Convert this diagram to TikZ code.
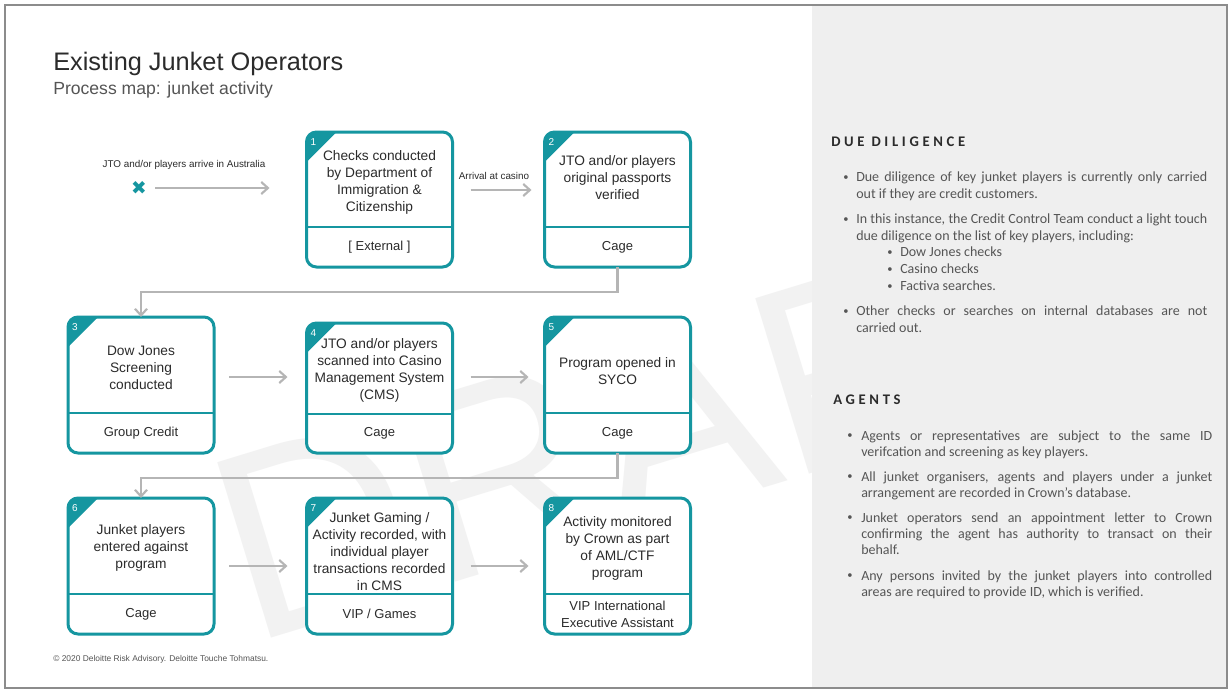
\documentclass[tikz,border=0pt]{standalone}
\usepackage{fontspec}
\usepackage{graphicx}
\setmainfont{Liberation Sans}
\newfontfamily\notefont{Carlito}
\newfontfamily\headfont{Carlito}[LetterSpace=25]
\newfontfamily\symbolfont{DejaVu Sans}
\usetikzlibrary{arrows.meta,calc}

\hyphenpenalty=10000
\exhyphenpenalty=10000
\tolerance=10000

\definecolor{tealc}{HTML}{1596A0}
\definecolor{flowgray}{HTML}{B5B5B5}
\definecolor{inkdark}{HTML}{2B2B2B}
\definecolor{inkmid}{HTML}{555555}
\definecolor{panelgray}{HTML}{EFEFEF}
\definecolor{framegray}{HTML}{8C8C8C}
\definecolor{markgray}{HTML}{F2F2F2}

\newcommand\noteleading{12.5pt}
\newcommand\notebullet{\raisebox{0.12em}{\scalebox{0.75}{•}}}

\tikzset{
  pbox/.style={draw=tealc, line width=2.25pt, fill=white, rounded corners=7.5pt,
    minimum width=109.5pt, inner sep=0pt, outer sep=0pt},
  divider/.style={draw=tealc, line width=1.5pt},
  numlabel/.style={text=white, font=\fontsize{7.5}{8}\selectfont, inner sep=0pt},
  maintext/.style={text=inkdark, align=center, font=\fontsize{10.3}{12.75}\selectfont, inner sep=0pt},
  foottext/.style={text=inkdark, align=center, font=\fontsize{9.75}{12.75}\selectfont, inner sep=0pt},
  flow/.style={draw=flowgray, line width=1.6pt, -{Straight Barb[length=5pt,width=9pt]}},
  smalllabel/.style={text=inkdark, font=\fontsize{7.4}{9}\selectfont, inner sep=0pt},
  notetext/.style={text=inkmid, align=justify, inner sep=0pt, anchor=north west,
    text width=263.25pt, font=\notefont\fontsize{10.5}{\noteleading}\selectfont},
  notebul/.style={text=inkmid, inner sep=0pt, anchor=north west,
    font=\notefont\fontsize{10.5}{\noteleading}\selectfont},
  notehead/.style={text=inkdark, anchor=west, inner sep=0pt,
    font=\headfont\bfseries\fontsize{11}{13}\selectfont},
  watermark/.style={text=markgray, rotate=17, anchor=base west, inner sep=0pt,
    font=\fontsize{200}{200}\selectfont}
}

% process step: name, number, centre x, top, bottom, divider y, text centre y, text, owner
\newcommand\procbox[9]{%
  \node[pbox, minimum height={(#5-#4)*0.75pt}] (#1) at (#3,{(#4+#5)/2}) {};
  \begin{scope}
    \clip[rounded corners=7.5pt] (#1.north west) rectangle (#1.south east);
    \fill[tealc] (#1.north west) -- ++(30,0) -- ++(-30,30) -- cycle;
  \end{scope}
  \node[numlabel] (#1-n) at ([xshift=5.25pt,yshift=-7.5pt]#1.north west) {#2};
  \draw[divider] (#1.west |- 0,#6) -- (#1.east |- 0,#6);
  \node[maintext] (#1-t) at (#3,#7) {#8};
  \node[foottext] (#1-f) at (#3,{(#6+#5)/2}) {#9};
}

% bulleted note paragraph: name, bullet x, text x, top, text
\newcommand\notepara[5]{%
  \node[notetext] (#1) at (#3,#4) {\strut #5};
  \node[notebul] (#1-b) at (#2,#4) {\strut\notebullet};
}

\begin{document}
\begin{tikzpicture}[x=0.75pt, y=-0.75pt]
\useasboundingbox (0,0) rectangle (1231,692);
\fill[white] (0,0) rectangle (1231,692);

% faint stamp behind the process map
\node[watermark] (mark) at (250,645) {DRAFT};

% notes panel and page frame
\fill[panelgray] (812,5) rectangle (1227,688);
\draw[framegray, line width=1.5pt] (5,5) rectangle (1227,688);

% headings
\node[anchor=base west, inner sep=0pt, text=inkdark, font=\fontsize{19}{22}\selectfont]
  (title) at (53,70) {Existing Junket Operators};
\node[anchor=base west, inner sep=0pt, text=inkmid, font=\fontsize{13.2}{15}\selectfont]
  (subtitle) at (53,94) {Process map: junket activity};

% process steps
\procbox{b1}{1}{379.5}{132}{267}{227}{182}{Checks conducted\\by Department of\\Immigration \&\\Citizenship}{[ External ]}
\procbox{b2}{2}{617.5}{132}{267}{227}{178}{JTO and/or players\\original passports\\verified}{Cage}
\procbox{b3}{3}{141}{317}{453}{413}{368}{Dow Jones\\Screening\\conducted}{Group Credit}
\procbox{b4}{4}{379.5}{323}{453}{414}{370}{JTO and/or players\\scanned into Casino\\Management System\\(CMS)}{Cage}
\procbox{b5}{5}{617.5}{317}{453}{413}{371}{Program opened in\\SYCO}{Cage}
\procbox{b6}{6}{141}{498}{634}{594}{548}{Junket players\\entered against\\program}{Cage}
\procbox{b7}{7}{379.5}{498}{634}{594}{552}{Junket Gaming /\\Activity recorded, with\\individual player\\transactions recorded\\in CMS}{VIP / Games}
\procbox{b8}{8}{617.5}{498}{634}{594}{548}{Activity monitored\\by Crown as part\\of AML/CTF\\program}{VIP International\\Executive Assistant}

% entry point
\node[text=tealc, inner sep=0pt, font=\symbolfont\fontsize{14}{14}\selectfont] (start) at (139,188) {✖};
\node[smalllabel] (arrive) at (184,165) {JTO and/or players arrive in Australia};
\node[smalllabel] (casino) at (494,176) {Arrival at casino};

% arrow rows
\coordinate (row1) at (0,190);
\coordinate (row2) at (0,377);
\coordinate (row3) at (0,566);

\draw[flow, shorten <=6pt, shorten >=27.75pt] (start) -- (start -| b1.west);
\draw[flow, shorten <=13.5pt, shorten >=9.75pt] (b1.east |- row1) -- (b2.west |- row1);
\draw[flow] (b2.south) -- ++(0,25) -| (b3.north);
\draw[flow, shorten <=11.25pt, shorten >=14.25pt] (b3.east |- row2) -- (b4.west |- row2);
\draw[flow, shorten <=13.5pt, shorten >=12pt] (b4.east |- row2) -- (b5.west |- row2);
\draw[flow] (b5.south) -- ++(0,25) -| (b6.north);
\draw[flow, shorten <=11.25pt, shorten >=14.25pt] (b6.east |- row3) -- (b7.west |- row3);
\draw[flow, shorten <=13.5pt, shorten >=12pt] (b7.east |- row3) -- (b8.west |- row3);

% footer
\node[anchor=west, inner sep=0pt, text=inkmid, font=\fontsize{6.3}{8}\selectfont]
  (copyright) at (53,659) {© 2020 Deloitte Risk Advisory. Deloitte Touche Tohmatsu.};

% notes: due diligence
\node[notehead] (ddhead) at (831,142) {DUE DILIGENCE};
\notepara{dd1}{843}{856}{170}{Due diligence of key junket players is currently only carried\linebreak out if they are credit customers.}
\notepara{dd2}{843}{856}{212}{In this instance, the Credit Control Team conduct a light touch\linebreak due diligence on the list of key players, including:}
\notepara{dds1}{887}{900}{245}{Dow Jones checks}
\notepara{dds2}{887}{900}{262}{Casino checks}
\notepara{dds3}{887}{900}{279}{Factiva searches.}
\notepara{dd3}{843}{856}{304}{Other checks or searches on internal databases are not\linebreak carried out.}

% notes: agents
\renewcommand\noteleading{12pt}
\node[notehead] (aghead) at (833,400) {AGENTS};
\notepara{ag1}{847}{861}{429}{Agents or representatives are subject to the same ID\linebreak verifcation and screening as key players.}
\notepara{ag2}{847}{861}{470}{All junket organisers, agents and players under a junket\linebreak arrangement are recorded in Crown’s database.}
\notepara{ag3}{847}{861}{511}{Junket operators send an appointment letter to Crown\linebreak confirming the agent has authority to transact on their\linebreak behalf.}
\notepara{ag4}{847}{861}{569}{Any persons invited by the junket players into controlled\linebreak areas are required to provide ID, which is verified.}
\end{tikzpicture}
\end{document}
